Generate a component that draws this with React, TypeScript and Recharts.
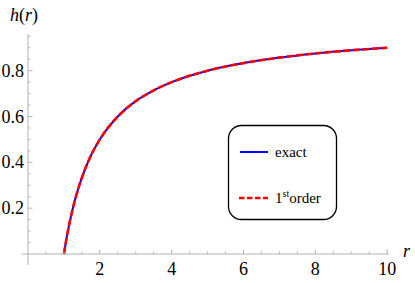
import { LineChart, Line, XAxis, YAxis, ReferenceLine } from "recharts";

/* ---------- data ---------- */
const rValues = [1, 1.05, 1.1, 1.2, 1.3, 1.4, 1.5, 1.75, 2, 2.5, 3, 3.5, 4, 5, 6, 7, 8, 9, 10];
const exactH = [0, 0.048, 0.091, 0.167, 0.231, 0.286, 0.333, 0.429, 0.5, 0.6, 0.667, 0.714, 0.75, 0.8, 0.833, 0.857, 0.875, 0.889, 0.9];
const firstOrderH = [0, 0.048, 0.091, 0.167, 0.231, 0.286, 0.333, 0.429, 0.5, 0.6, 0.667, 0.714, 0.75, 0.8, 0.833, 0.857, 0.875, 0.889, 0.9];

const xMajor = [2, 4, 6, 8, 10];
const xTicks = [0.5, 1, 1.5, 2, 2.5, 3, 3.5, 4, 4.5, 5, 5.5, 6, 6.5, 7, 7.5, 8, 8.5, 9, 9.5, 10];
const yMajor = [0.2, 0.4, 0.6, 0.8];
const yTicks = [0.05, 0.1, 0.15, 0.2, 0.25, 0.3, 0.35, 0.4, 0.45, 0.5, 0.55, 0.6, 0.65, 0.7, 0.75, 0.8, 0.85, 0.9, 0.95];

const data = rValues.map((r, i) => ({ r, exact: exactH[i], first: firstOrderH[i] }));

const AXIS = "#b3b3b3";
const FONT = "Liberation Serif, serif";

function XTick({ x, y, payload }: any) {
  const v = payload.value;
  const major = xMajor.includes(v);
  return (
    <g>
      <line x1={x} x2={x} y1={y} y2={y - (major ? 4.5 : 2.5)} stroke={AXIS} />
      {major && (
        <text x={x} y={y + 21} textAnchor="middle" fontFamily={FONT} fontSize={18} fill="#000">
          {v}
        </text>
      )}
    </g>
  );
}

function YTick({ x, y, payload }: any) {
  const v = payload.value;
  const major = yMajor.includes(v);
  return (
    <g>
      <line x1={x} x2={x + (major ? 4.5 : 2.5)} y1={y} y2={y} stroke={AXIS} />
      {major && (
        <text x={x - 4} y={y + 6} textAnchor="end" fontFamily={FONT} fontSize={18} fill="#000">
          {v.toFixed(1)}
        </text>
      )}
    </g>
  );
}

export default function App() {
  return (
    <div style={{ position: "absolute", left: 0, top: 0, width: 415, height: 283, background: "#fff" }}>
      <LineChart width={415} height={283} data={data} margin={{ top: 34, right: 26, bottom: 0, left: 0 }}>
        <XAxis
          dataKey="r"
          type="number"
          domain={[0, 10.05]}
          ticks={xTicks}
          interval={0}
          height={29}
          axisLine={false}
          tickLine={false}
          tickSize={0}
          tickMargin={0}
          tick={(p: any) => <XTick {...p} />}
        />
        <YAxis
          type="number"
          domain={[0, 0.96]}
          ticks={yTicks}
          interval={0}
          width={28}
          axisLine={false}
          tickLine={false}
          tickSize={0}
          tickMargin={0}
          tick={(p: any) => <YTick {...p} />}
        />
        <ReferenceLine segment={[{ x: -0.18, y: 0 }, { x: 10.05, y: 0 }]} stroke={AXIS} ifOverflow="visible" />
        <ReferenceLine segment={[{ x: 0, y: -0.048 }, { x: 0, y: 0.96 }]} stroke={AXIS} ifOverflow="visible" />
        <Line type="monotone" dataKey="exact" stroke="#0000ff" strokeWidth={2} dot={false} isAnimationActive={false} />
        <Line
          type="monotone"
          dataKey="first"
          stroke="#ff0000"
          strokeWidth={2.6}
          strokeDasharray="7 2.5"
          dot={false}
          isAnimationActive={false}
        />
      </LineChart>

      {/* labels + legend overlay */}
      <svg width={415} height={283} style={{ position: "absolute", left: 0, top: 0, pointerEvents: "none" }}>
        <text x={10} y={21} fontFamily={FONT} fontSize={18} fill="#000">
          <tspan fontStyle="italic">h</tspan>
          <tspan>(</tspan>
          <tspan fontStyle="italic">r</tspan>
          <tspan>)</tspan>
        </text>
        <text x={403} y={257} fontFamily={FONT} fontSize={18} fontStyle="italic" fill="#000">
          r
        </text>

        <rect x={228.5} y={125.5} width={108} height={94} rx={13} ry={13} fill="#fff" stroke="#000" strokeWidth={1.3} />
        <line x1={240} x2={268} y1={152} y2={152} stroke="#0000ff" strokeWidth={2} />
        <text x={275} y={157} fontFamily={FONT} fontSize={15} fill="#000">
          exact
        </text>
        <line x1={239} x2={268} y1={198} y2={198} stroke="#ff0000" strokeWidth={2.6} strokeDasharray="5.5 2.5" />
        <text x={275} y={203} fontFamily={FONT} fontSize={15} fill="#000">
          <tspan>1</tspan>
          <tspan dy={-6} fontSize={10}>st</tspan>
          <tspan dy={6}>order</tspan>
        </text>
      </svg>
    </div>
  );
}
